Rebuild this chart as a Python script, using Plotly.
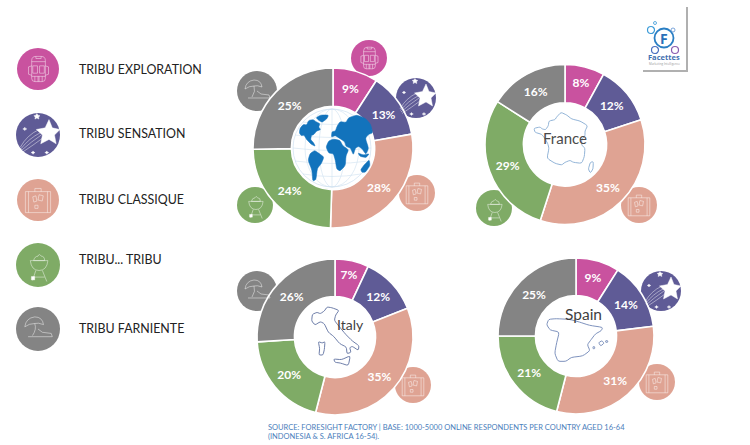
import re
import plotly.graph_objects as go

W, H = 750, 445

tribes = ["TRIBU EXPLORATION", "TRIBU SENSATION", "TRIBU CLASSIQUE", "TRIBU... TRIBU", "TRIBU FARNIENTE"]
colors = ["#C9529F", "#5F5B96", "#DFA393", "#7FAB66", "#848484"]

world_values = [9, 13, 28, 24, 25]
france_values = [8, 12, 35, 29, 16]
italy_values = [7, 12, 35, 20, 26]
spain_values = [9, 14, 31, 21, 25]

source_lines = [
    "SOURCE: FORESIGHT FACTORY | BASE: 1000-5000 ONLINE RESPONDENTS PER COUNTRY AGED 16-64",
    "(INDONESIA & S. AFRICA 16-54).",
]


# =========================
# helpers (pixels -> paper)
# =========================
def px(x):
    return x / W


def py(y):
    return 1 - y / H


def path_px(d):
    # d is an svg path written in screen pixels
    out, is_x = [], True
    for tok in re.findall(r"[A-Za-z]|-?\d+\.?\d*", d):
        if tok.isalpha():
            out.append(tok)
            is_x = True
        else:
            out.append(f"{px(float(tok)):.5f}" if is_x else f"{py(float(tok)):.5f}")
            is_x = not is_x
    return " ".join(out)


def scaled(d, cx, cy, k):
    # d is written in local units, moved to (cx, cy)
    out, is_x = [], True
    for tok in re.findall(r"[A-Za-z]|-?\d+\.?\d*", d):
        if tok.isalpha():
            out.append(tok)
            is_x = True
        else:
            v = float(tok)
            out.append(f"{cx + v * k:.2f}" if is_x else f"{cy + v * k:.2f}")
            is_x = not is_x
    return " ".join(out)


def smooth(d):
    # closed outline with only the corners rounded, so the shape keeps its size
    nums = [float(t) for t in re.findall(r"-?\d+\.?\d*", d)]
    pts = list(zip(nums[0::2], nums[1::2]))
    n = len(pts)
    s = ""
    for i, p in enumerate(pts):
        prev_p, next_p = pts[i - 1], pts[(i + 1) % n]
        a = (p[0] + (prev_p[0] - p[0]) * 0.25, p[1] + (prev_p[1] - p[1]) * 0.25)
        b = (p[0] + (next_p[0] - p[0]) * 0.25, p[1] + (next_p[1] - p[1]) * 0.25)
        s += f"{'M' if i == 0 else 'L'} {a[0]:.2f} {a[1]:.2f} Q {p[0]} {p[1]} {b[0]:.2f} {b[1]:.2f} "
    return s + "Z"


shapes = []
annotations = []


def add_path(d, line=None, fill=None, width=1.0, layer="above"):
    shapes.append(dict(
        type="path", path=path_px(d), xref="paper", yref="paper", layer=layer,
        line=dict(color=line or "rgba(0,0,0,0)", width=width if line else 0),
        fillcolor=fill or "rgba(0,0,0,0)",
    ))


def add_circle(cx, cy, r, fill=None, line=None, width=1.0, layer="above"):
    shapes.append(dict(
        type="circle", xref="paper", yref="paper", layer=layer,
        x0=px(cx - r), x1=px(cx + r), y0=py(cy + r), y1=py(cy - r),
        line=dict(color=line or "rgba(0,0,0,0)", width=width if line else 0),
        fillcolor=fill or "rgba(0,0,0,0)",
    ))


def add_text(x, y, text, size, color, xanchor="center", family="Lato", bold=False):
    annotations.append(dict(
        x=px(x), y=py(y), xref="paper", yref="paper", text=f"<b>{text}</b>" if bold else text,
        showarrow=False, xanchor=xanchor, yanchor="middle",
        font=dict(size=size, color=color, family=family),
    ))


# =========================
# icons, local units: circle of radius 20
# =========================
ICONS = {
    0: [  # backpack
        ("M -6 -8 Q -6 -12 -2 -12 L 3 -12 Q 7 -12 7 -8 L 7 9 Q 7 12 4 12 L -3 12 Q -6 12 -6 9 Z", False),
        ("M -6 -7 L 7 -7 M -2 -12 L -2 -10 L 3 -10 L 3 -12", False),
        ("M -5 -3 L -0.5 -3 L -0.5 4 L -5 4 Z M 1.5 -3 L 6 -3 L 6 4 L 1.5 4 Z", False),
        ("M -6 -3 L -9 -2 L -9 5 L -6 6 M 7 -3 L 10 -2 L 10 5 L 7 6", False),
        ("M -3 7 L -3 12 M 0 7 L 0 12 M 1 7 L 1 12 M 4 7 L 4 12 M -6 7 L 7 7", False),
    ],
    1: [  # shooting star
        ("M 10 -14 L 13 -6.5 L 20 -5 L 15 0 L 16.5 8 L 10 4 L 2.5 8 L 4 0 L -1.5 -5 L 6.5 -6.5 Z", True),
        ("M -16 11 Q -10 0 1 -5 M -15.5 12.5 Q -8 3 2 -2 M -15 14 Q -6 6 3 0 M -14 15.5 Q -4 9 4 3", False),
        ("M -1 -19.5 L 0 -18 L 1.8 -17.5 L 0.5 -16.3 L 0.8 -14.5 L -1 -15.4 L -2.8 -14.5 L -2.5 -16.3 L -3.8 -17.5 L -2 -18 Z", True),
        ("M -12 -7 L -11.4 -6 L -10.2 -5.5 L -11.4 -5 L -12 -4 L -12.6 -5 L -13.8 -5.5 L -12.6 -6 Z", True),
        ("M -4.5 14.5 L -3.9 15.5 L -2.7 16 L -3.9 16.5 L -4.5 17.5 L -5.1 16.5 L -6.3 16 L -5.1 15.5 Z", True),
        ("M 8 14.5 L 8.6 15.5 L 9.8 16 L 8.6 16.5 L 8 17.5 L 7.4 16.5 L 6.2 16 L 7.4 15.5 Z", True),
    ],
    2: [  # suitcase
        ("M -12 -8 L 12 -8 L 12 12 L -12 12 Z", False),
        ("M -9 -8 L -9 12 M 9 -8 L 9 12", False),
        ("M -3 -8 L -3 -11 L 3 -11 L 3 -8", False),
        ("M -5 -3 L -2 -4 L -1 1 L -4 2 Z M 1 -5 L 5 -4 L 4 1 L 0 0 Z M -3 5 L 0 5 L 0 8 L -3 8 Z", False),
    ],
    3: [  # grill
        ("M -7 -4 L 9 -4 Q 8 5 1 5 Q -6 5 -7 -4 Z", False),
        ("M -4 -4 Q -3 -8 0 -8 Q 1 -11 3 -8 Q 6 -8 6 -4 Z", False),
        ("M -2 5 L -5 14 M 4 5 L 8 15 M -4 11 L 6 11", False),
        ("M -6 10.5 L -3 10.5 L -3 13.5 L -6 13.5 Z", True),
    ],
    4: [  # parasol and lounger
        ("M -12 -2 Q -11 -10 -3 -11 Q 4 -11 5 -4 Q 0 -6 -3 -5 Q -8 -5 -12 -2 Z", False),
        ("M -3 -5 Q -1 0 -5 6", False),
        ("M -9 7 L 13 7 L 12 4 L 4 3 L 0 0", False),
    ],
}


def add_icon(kind, cx, cy, r, layer_circle="below"):
    add_circle(cx, cy, r + 1, fill="white", layer=layer_circle)
    add_circle(cx, cy, r, fill=colors[kind], layer=layer_circle)
    k = r / 20
    for d, filled in ICONS[kind]:
        p = scaled(d, cx, cy, k)
        add_path(p, line="rgba(255,255,255,0.75)", fill="white" if filled else None, width=0.6)


# legend column
legend_icon_y = [69, 135, 200, 265, 329]
legend_text_y = [69, 133, 199, 259, 328]
legend_icon_r = [21, 22, 21, 22, 22]
for i, name in enumerate(tribes):
    add_icon(i, 38, legend_icon_y[i], legend_icon_r[i])
    add_text(77, legend_text_y[i], name, 12.4, "#222222", xanchor="left")

# small badges around the donuts: (tribe, x, y, r)
badges = [
    (0, 369, 58, 18), (1, 416, 98, 20), (2, 417, 193, 18), (3, 255, 205, 18), (4, 257, 91, 20),
    (3, 494, 208, 18), (2, 639, 205, 18),
    (4, 257, 291, 20), (2, 413, 385, 18),
    (1, 661, 291, 20), (2, 657, 382, 18),
]
for kind, bx, by, br in badges:
    add_icon(kind, bx, by, br)

# =========================
# globe
# =========================
GLOBE_BLUE = "#1273BC"
GRID_BLUE = "#CFE0F0"
gx, gy, gr = 332, 148, 39
add_circle(gx, gy, gr, fill="white", line=GRID_BLUE, width=0.7)
for rx in [13, 27]:
    shapes.append(dict(type="circle", xref="paper", yref="paper", layer="above",
                       x0=px(gx - rx), x1=px(gx + rx), y0=py(gy + gr), y1=py(gy - gr),
                       line=dict(color=GRID_BLUE, width=0.6)))
add_path(f"M {gx} {gy - gr} L {gx} {gy + gr}", line=GRID_BLUE, width=0.6)
for dy, hw in [(-26, 29), (-13, 37), (0, 39), (13, 37), (26, 29)]:
    add_path(f"M {gx - hw} {gy + dy} Q {gx} {gy + dy + 5} {gx + hw} {gy + dy}", line=GRID_BLUE, width=0.6)

continents = [
    # north america
    "M 28 84 L 30 70 L 40 58 L 50 60 L 56 46 L 70 44 L 78 50 L 90 56 L 86 66 L 92 74 L 80 78 L 72 88 L 64 92 "
    "L 62 104 L 70 112 L 76 124 L 64 118 L 50 104 L 42 90 L 34 92 Z",
    # greenland
    "M 78 38 L 92 30 L 116 30 L 110 42 L 96 52 L 86 46 Z",
    # south america
    "M 60 146 L 74 136 L 88 146 L 102 156 L 94 176 L 82 190 L 78 224 L 68 228 L 66 196 L 54 166 Z",
    # africa
    "M 108 126 L 116 108 L 130 102 L 150 106 L 158 122 L 176 134 L 168 152 L 166 182 L 150 198 L 140 192 L 136 166 "
    "L 130 146 L 116 144 Z",
    # europe and asia
    "M 124 96 L 126 80 L 136 78 L 142 62 L 150 50 L 168 52 L 176 38 L 200 30 L 226 40 L 242 58 L 248 84 L 236 88 "
    "L 226 100 L 236 130 L 228 148 L 216 132 L 206 124 L 196 130 L 190 150 L 182 130 L 168 124 L 164 110 L 146 98 L 136 92 Z",
    # australia
    "M 212 194 L 222 180 L 238 164 L 240 182 L 226 202 L 216 202 Z",
    # islands
    "M 204 144 L 220 150 L 238 146 L 228 158 L 210 154 Z",
]
for d in continents:
    p = scaled(smooth(d), 290, 105, 1 / 3)
    add_path(p, line=GLOBE_BLUE, fill=GLOBE_BLUE, width=0.5)

# =========================
# country outlines
# =========================
FRANCE_LINE = "#86ABD3"
ITALY_LINE = "#5E6F9F"
SPAIN_LINE = "#6F86B5"
france_paths = [
    "M 27 70 L 45 66 L 52 72 L 62 74 L 70 62 L 72 48 L 90 44 L 95 36 L 108 22 L 125 30 L 140 42 L 165 48 L 188 62 "
    "L 180 78 L 180 92 L 170 104 L 170 120 L 180 130 L 178 155 L 170 175 L 145 172 L 135 166 L 120 172 L 110 180 "
    "L 90 175 L 66 160 L 72 130 L 68 115 L 58 98 L 50 88 L 30 82 Z",
    "M 196 172 L 205 170 L 204 192 L 196 204 L 190 192 Z",
]
italy_paths = [
    "M 52 52 L 66 46 L 76 50 L 88 42 L 96 30 L 110 32 L 132 40 L 122 54 L 118 70 L 132 88 L 152 112 L 172 132 "
    "L 192 146 L 190 160 L 172 148 L 164 152 L 168 166 L 156 170 L 154 150 L 134 140 L 116 118 L 100 106 L 88 80 "
    "L 76 74 L 60 84 L 50 72 Z",
    "M 116 186 L 140 188 L 166 176 L 160 206 L 136 198 L 120 196 Z",
    "M 70 134 L 82 138 L 90 134 L 88 158 L 84 174 L 72 174 L 74 154 Z",
]
spain_paths = [
    "M 38 70 L 60 68 L 100 70 L 130 78 L 160 88 L 200 94 L 196 104 L 178 114 L 166 130 L 154 146 L 162 164 L 140 180 "
    "L 106 184 L 90 196 L 66 196 L 56 172 L 62 140 L 70 108 L 42 102 L 32 86 Z",
    "M 188 140 L 198 134 L 204 142 L 194 150 Z",
    "M 171 152 L 176 152 L 176 158 L 171 158 Z",
    "M 209 134 L 215 134 L 215 139 L 209 139 Z",
]
for d in france_paths:
    add_path(scaled(smooth(d), 525, 105, 1 / 3), line=FRANCE_LINE, width=0.9)
for d in italy_paths:
    add_path(scaled(smooth(d), 295, 297, 1 / 3), line=ITALY_LINE, width=0.9)
for d in spain_paths:
    add_path(scaled(smooth(d), 536, 296, 1 / 3), line=SPAIN_LINE, width=0.9)

add_text(565, 138, "France", 15, "#4A4A4A")
add_text(350, 324, "Italy", 14, "#3F3F3F")
add_text(583, 314, "Spain", 15.5, "#3F3F3F")

# =========================
# logo card
# =========================
add_path("M 643 7 L 688 7 L 688 72 L 643 72 Z", fill="#B0B0B0")
add_path("M 640 3 L 686 3 L 686 70 L 640 70 Z", fill="white")
add_circle(664, 38, 9.5, line="#2A7FC4", width=1.8)
add_circle(651, 30, 3.5, line="#3B9BD8", width=1.2)
add_circle(655, 23, 1.5, line="#3B9BD8", width=0.8)
add_circle(673, 30, 2, line="#5A8FD0", width=0.8)
add_circle(655, 50, 3.5, line="#4A6FC0", width=1.2)
add_circle(675, 50, 3.5, line="#8A5CB0", width=1.2)
add_text(664, 38, "F", 14, "#2A70B8", bold=True, family="Open Sans")
add_text(664, 57.5, "Facettes", 7.5, "#3F6FB0", bold=True, family="Open Sans")
add_text(664, 63.5, "Marketing Intelligence", 3, "#9A9A9A", family="Open Sans")

# source note
add_text(266, 427, source_lines[0], 7.5, "#4A7EBB", xanchor="left", family="Lato")
add_text(266, 436, source_lines[1], 7.5, "#4A7EBB", xanchor="left", family="Lato")

# =========================
# donuts
# =========================
fig = go.Figure()
donuts = [
    (world_values, 333, 148, 80, 0.52),
    (france_values, 565, 144.5, 80, 0.52),
    (italy_values, 335, 337, 78, 0.52),
    (spain_values, 576, 336, 78, 0.52),
]
for vals, cx, cy, r, hole in donuts:
    fig.add_trace(go.Pie(
        values=vals,
        labels=tribes,
        text=[f"<b>{v}%</b>" for v in vals],
        textinfo="text",
        textposition="inside",
        insidetextorientation="horizontal",
        textfont=dict(size=12, color="white", family="Lato"),
        marker=dict(colors=colors, line=dict(color="white", width=1.6)),
        sort=False,
        direction="clockwise",
        rotation=0,
        hole=hole,
        domain=dict(x=[px(cx - r), px(cx + r)], y=[py(cy + r), py(cy - r)]),
        showlegend=False,
        hoverinfo="label+text",
    ))

fig.update_layout(
    width=W,
    height=H,
    margin=dict(l=0, r=0, t=0, b=0),
    paper_bgcolor="white",
    plot_bgcolor="white",
    showlegend=False,
    shapes=shapes,
    annotations=annotations,
)

fig.write_html("out.html", config=dict(displayModeBar=False), post_script="document.body.style.margin='0';")
